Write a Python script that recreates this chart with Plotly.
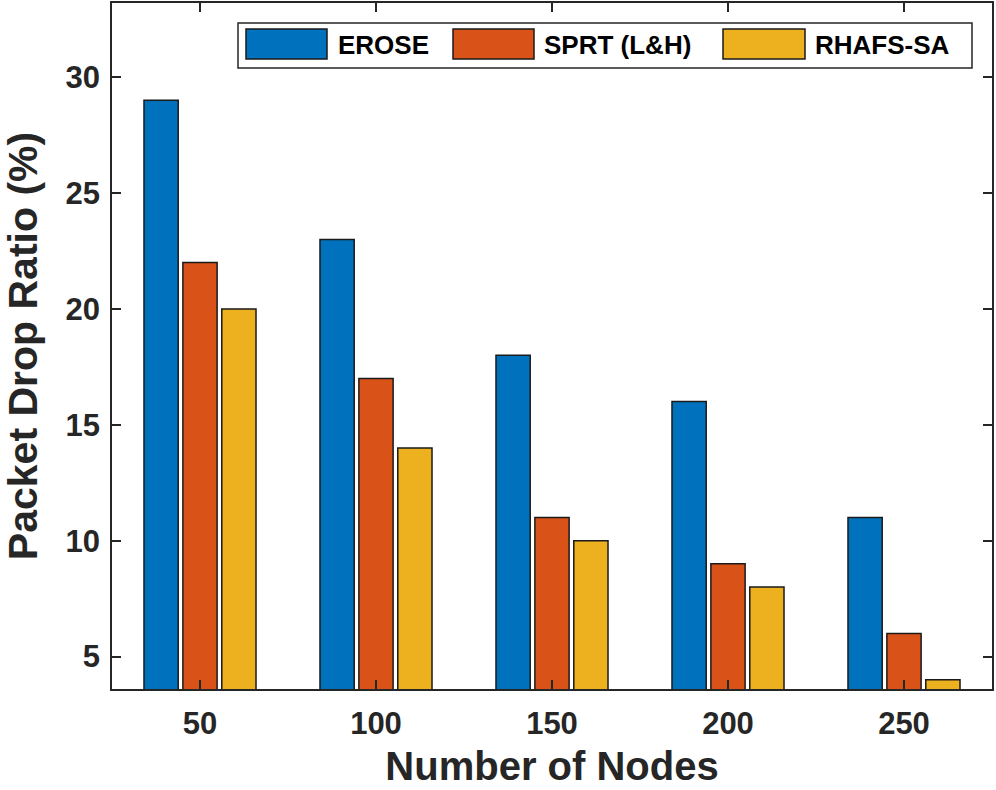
import plotly.graph_objects as go

nodes = ["50", "100", "150", "200", "250"]
series_names = ["EROSE", "SPRT (L&H)", "RHAFS-SA"]
erose = [29, 23, 18, 16, 11]
sprt = [22, 17, 11, 9, 6]
rhafs = [20, 14, 10, 8, 4]
y_ticks = [5, 10, 15, 20, 25, 30]

colors = ["#0072BD", "#D95319", "#EDB120"]
W, H = 996, 790
L, R, T, B = 112, 4, 3, 101
pw, ph = W - L - R, H - T - B

def px(x):
    return (x - L) / pw

def py(y):
    return (H - B - y) / ph

FONT = "Liberation Sans, Arial, sans-serif"
TXT = "#262626"

fig = go.Figure()
for name, vals, c in zip(series_names, [erose, sprt, rhafs], colors):
    fig.add_trace(go.Bar(x=nodes, y=vals, name=name, marker=dict(color=c, line=dict(color="#1a1a1a", width=1.5)),
                         showlegend=False, hoverinfo="skip"))

axis_common = dict(showline=True, linecolor=TXT, linewidth=1.5, mirror="ticks", ticks="inside",
                   ticklen=9, tickwidth=1.5, tickcolor=TXT, showgrid=False, zeroline=False, automargin=False,
                   tickfont=dict(family=FONT, size=31, color=TXT, weight="bold"), layer="above traces")

fig.update_layout(
    width=W, height=H, margin=dict(l=L, r=R, t=T, b=B),
    paper_bgcolor="white", plot_bgcolor="white",
    barmode="group", bargap=0.337, bargroupgap=0.12,
    xaxis=dict(**axis_common, type="category", range=[-0.5, 4.5], ticklabelstandoff=6,
               title=dict(text="Number of Nodes", font=dict(family=FONT, size=40, color=TXT, weight="bold"), standoff=12)),
    yaxis=dict(**axis_common, range=[3.6, 33.2], tickvals=y_ticks, ticklabelstandoff=4,
               title=dict(text="Packet Drop Ratio (%)", font=dict(family=FONT, size=41, color=TXT, weight="bold"), standoff=18)),
    font=dict(family=FONT),
)

# custom legend (MATLAB style)
shapes = [dict(type="rect", xref="paper", yref="paper", x0=px(238), x1=px(972), y0=py(68), y1=py(23),
               line=dict(color=TXT, width=1.5), fillcolor="white", layer="above")]
sw = [(246, 327, 336), (453, 534, 542), (723, 805, 813)]
for (a, b, t), c, name in zip(sw, colors, series_names):
    shapes.append(dict(type="rect", xref="paper", yref="paper", x0=px(a), x1=px(b), y0=py(59), y1=py(29),
                       line=dict(color="#1a1a1a", width=1.5), fillcolor=c, layer="above"))
    fig.add_annotation(x=px(t), y=py(45), xref="paper", yref="paper", text=name, showarrow=False,
                       xanchor="left", yanchor="middle",
                       font=dict(family=FONT, size=26, color="black", weight="bold"))
fig.update_layout(shapes=shapes)

fig.write_html("out.html", config={"displayModeBar": False},
               post_script="document.body.style.margin='0';document.body.style.overflow='hidden';")
